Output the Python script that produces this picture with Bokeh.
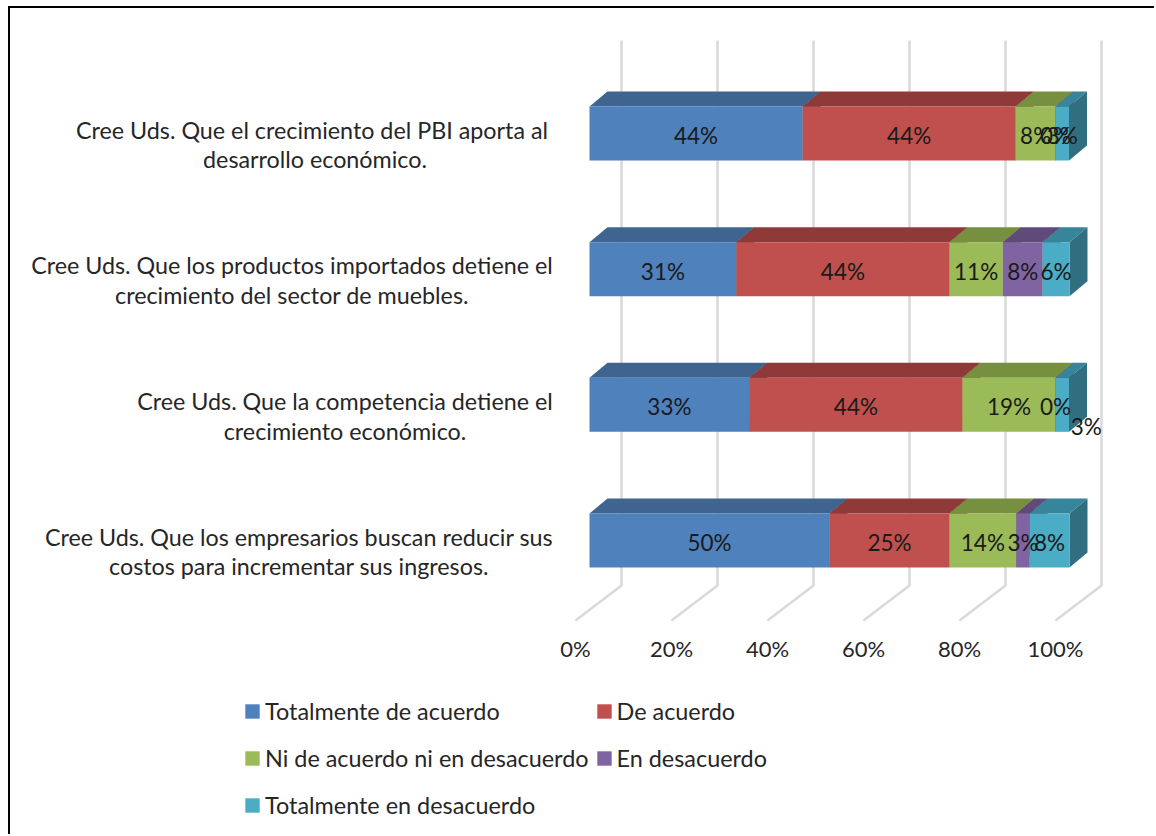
from bokeh.plotting import figure
from bokeh.embed import file_html
from bokeh.resources import INLINE
from bokeh.models import Range1d, FixedTicker, LinearAxis, Legend, LegendItem
from bokeh.core.properties import value

FONT = "Lato"
categories = [
    "Cree Uds. Que los empresarios buscan reducir sus\ncostos para incrementar sus ingresos.",
    "Cree Uds. Que la competencia detiene el\ncrecimiento económico.",
    "Cree Uds. Que los productos importados detiene el\ncrecimiento del sector de muebles.",
    "Cree Uds.  Que el crecimiento del PBI aporta al\ndesarrollo económico.",
]
series = ["Totalmente de acuerdo", "De acuerdo", "Ni de acuerdo ni en desacuerdo", "En desacuerdo", "Totalmente en desacuerdo"]
totalmente_de_acuerdo = [50.0, 33.3, 30.6, 44.4]
de_acuerdo = [25.0, 44.4, 44.4, 44.4]
ni_de_acuerdo = [13.9, 19.4, 11.1, 8.3]
en_desacuerdo = [2.8, 0.0, 8.3, 0.0]
totalmente_en_desacuerdo = [8.3, 2.8, 5.6, 2.8]
columns = [totalmente_de_acuerdo, de_acuerdo, ni_de_acuerdo, en_desacuerdo, totalmente_en_desacuerdo]
front = ["#4F81BD", "#C0504D", "#9BBB59", "#8064A2", "#4BACC6"]
top = ["#3E648F", "#8F3A38", "#76903F", "#5F4A7A", "#37859A"]
side = ["#335274", "#73302E", "#607534", "#4D3C63", "#316F80"]
ticks = [0, 20, 40, 60, 80, 100]

PX_X = 4.8          # pixels per percent
PX_Y = 135.67       # pixels per row
ORG_X, ORG_Y = 10, 8
FIG_W, FIG_H = 1156 - ORG_X, 836 - ORG_Y
x0 = -(575 - ORG_X) / PX_X
y0 = -(ORG_Y + FIG_H - 540) / PX_Y
y1 = y0 + FIG_H / PX_Y

p = figure(width=FIG_W, height=FIG_H, output_backend="svg", toolbar_location=None,
           x_range=Range1d(x0, x0 + FIG_W / PX_X), y_range=Range1d(y0, y1),
           min_border=0, min_border_left=0, min_border_right=0, min_border_top=0, min_border_bottom=0,
           x_axis_type=None, y_axis_type=None, frame_width=FIG_W, frame_height=FIG_H,
           margin=(ORG_Y, 0, 0, ORG_X))
p.outline_line_color = None
p.grid.visible = False
p.styles = {"box-shadow": "-2px -2px 0 #000"}

# depth of the 3D box, and of the bar within it
BX, BY = 46 / PX_X, 35 / PX_Y      # floor depth
OX = 14 / PX_X                     # bar front relative to axis
DX, DY = 18 / PX_X, 15 / PX_Y      # bar depth
H = 54 / PX_Y
FLOOR = -(620 - 540) / PX_Y
GRID_TOP = FLOOR + (620 - 40) / PX_Y

grid_c = "#D9D9D9"
p.segment([t + BX for t in ticks], [FLOOR + BY] * 6, [t + BX for t in ticks], [GRID_TOP] * 6, line_color=grid_c, line_width=2.5)
p.segment(ticks, [FLOOR] * 6, [t + BX for t in ticks], [FLOOR + BY] * 6, line_color=grid_c, line_width=2.5)

items = []
labels_x, labels_y, labels_t = [], [], []
left = [OX] * 4
for k, col in enumerate(columns):
    right = [l + v for l, v in zip(left, col)]
    ybot = [i - H / 2 for i in range(4)]
    ytop = [i + H / 2 for i in range(4)]
    p.patches([[l, r, r + DX, l + DX] for l, r in zip(left, right)],
              [[yt, yt, yt + DY, yt + DY] for yt in ytop],
              fill_color=top[k], line_color=None)
    p.patches([[r, r + DX, r + DX, r] for r in right],
              [[yb, yb + DY, yt + DY, yt] for yb, yt in zip(ybot, ytop)],
              fill_color=side[k], line_color=None)
    q = p.quad(left=left, right=right, bottom=ybot, top=ytop, fill_color=front[k], line_color=None)
    items.append(LegendItem(label=series[k], renderers=[q]))
    for i in range(4):
        labels_x.append((left[i] + right[i]) / 2)
        labels_y.append(i)
        labels_t.append(f"{round(col[i])}%")
    left = right

# the one label that sits outside its bar: row index 1, last series
lab_x = list(labels_x); lab_y = list(labels_y)
idx = 4 * 4 + 1
lab_x[idx] = lab_x[idx] + 24 / PX_X
lab_y[idx] = lab_y[idx] - 20 / PX_Y

p.text(lab_x, [y - 2 / PX_Y for y in lab_y], labels_t, text_align="center", text_baseline="middle",
       text_font=value(FONT), text_font_size="22.5px", text_color="#1a1a1a")

# each two-line label is a centred block whose right edge sits on the same line
label_centres_px = [298.5, 344.5, 291.5, 314.5]
p.text([(c - 575) / PX_X for c in label_centres_px], [i - 11 / PX_Y for i in range(4)], categories,
       text_align="center", text_baseline="middle", text_line_height=1.07,
       text_font=value(FONT), text_font_size="23.3px", text_color="#262626")

ax = LinearAxis(ticker=FixedTicker(ticks=ticks), fixed_location=-(628 - 540) / PX_Y)
ax.major_label_overrides = {t: f"{t}%" for t in ticks}
ax.axis_line_color = None
ax.major_tick_line_color = None
ax.minor_tick_line_color = None
ax.major_label_text_font = FONT
ax.major_label_text_font_size = "22px"
ax.major_label_text_color = "#262626"
ax.major_label_standoff = 0
p.add_layout(ax, "below")

leg = Legend(items=items, ncols=2, orientation="horizontal", location=(233, 11),
             border_line_color=None, background_fill_alpha=0,
             glyph_width=18, glyph_height=18, label_height=41, spacing=6,
             label_text_font=FONT, label_text_font_size="23.4px", label_text_color="#262626", label_standoff=4,
             margin=0, padding=0)
p.add_layout(leg)

open("out.html", "w").write(file_html(p, INLINE))
